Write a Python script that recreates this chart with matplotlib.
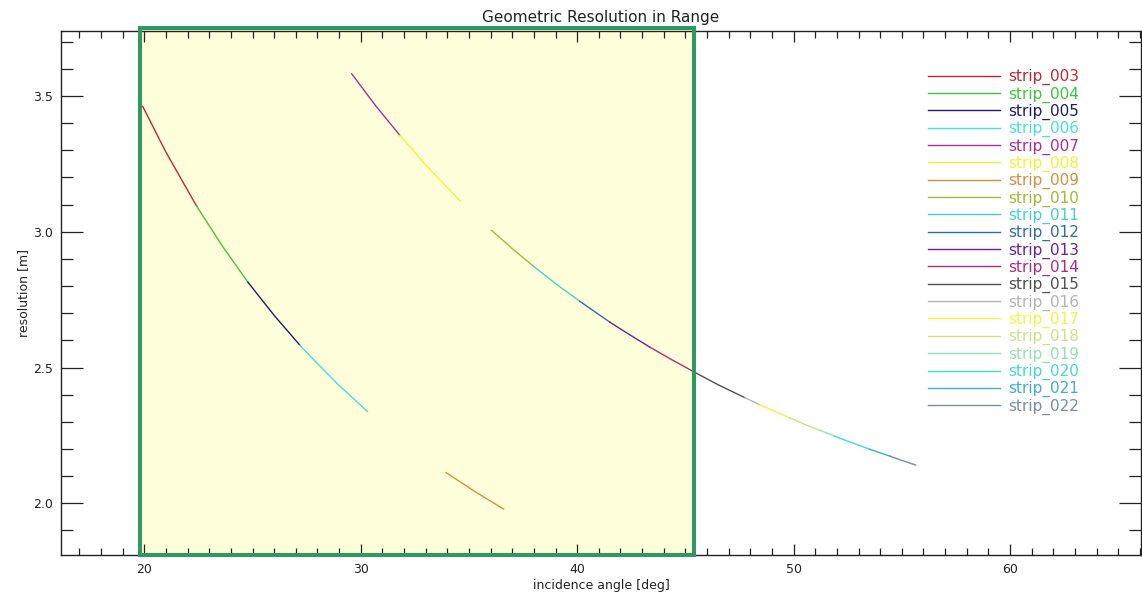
import numpy as np
import matplotlib
matplotlib.use("Agg")
import matplotlib.pyplot as plt
from matplotlib.patches import Rectangle
from matplotlib.ticker import MultipleLocator

# strips: name, colour, incidence angles [deg], resolution [m]
strip_names = ["strip_003", "strip_004", "strip_005", "strip_006", "strip_007",
               "strip_008", "strip_009", "strip_010", "strip_011", "strip_012",
               "strip_013", "strip_014", "strip_015", "strip_016", "strip_017",
               "strip_018", "strip_019", "strip_020", "strip_021", "strip_022"]

strip_colors = ["#c02830", "#3cc83c", "#1c1c70", "#48dede", "#a82ca8",
                "#f2f236", "#d49040", "#a8b832", "#44d2c6", "#2e6ea8",
                "#702090", "#b02a80", "#505050", "#b4b4b4", "#f4f444",
                "#cce284", "#92e2b2", "#44d8d8", "#40b0c2", "#7090aa"]

strip_angle = [
    [19.93, 21.0, 22.42],
    [22.42, 23.6, 24.79],
    [24.79, 26.0, 27.19],
    [27.19, 27.65, 29.0, 30.31],
    [29.58, 30.7, 31.81],
    [31.81, 33.2, 34.58],
    [33.95, 35.3, 36.6],
    [36.05, 37.0, 37.95],
    [37.95, 39.0, 40.12],
    [40.12, 41.51],
    [41.51, 42.4, 43.36],
    [43.36, 44.3, 45.35],
    [45.35, 46.5, 47.75],
    [47.75, 48.44],
    [48.44, 49.82],
    [49.82, 50.5, 51.21],
    [51.21, 51.90],
    [51.90, 52.7, 53.52],
    [53.52, 54.44],
    [54.44, 55.0, 55.64],
]

strip_res = [
    [3.461, 3.293, 3.094],
    [3.094, 2.948, 2.814],
    [2.814, 2.692, 2.582],
    [2.582, 2.543, 2.434, 2.338],
    [3.582, 3.463, 3.355],
    [3.355, 3.229, 3.115],
    [2.113, 2.042, 1.979],
    [3.005, 2.938, 2.875],
    [2.875, 2.809, 2.744],
    [2.744, 2.667],
    [2.667, 2.622, 2.575],
    [2.575, 2.532, 2.486],
    [2.486, 2.437, 2.389],
    [2.389, 2.363],
    [2.363, 2.315],
    [2.315, 2.291, 2.269],
    [2.269, 2.247],
    [2.247, 2.223, 2.199],
    [2.199, 2.174],
    [2.174, 2.158, 2.141],
]

# highlighted angle window
box_x = [19.80, 45.42]

fig = plt.figure(figsize=(11.42, 5.98), dpi=100)
ax = fig.add_axes([0.0534, 0.0719, 0.9457, 0.8768])

for name, col, xa, ya in zip(strip_names, strip_colors, strip_angle, strip_res):
    ax.plot(xa, ya, color=col, lw=1.0, label=name, zorder=2)

ax.set_xlim(16.15, 66.05)
ax.set_ylim(1.8096, 3.7405)

ax.xaxis.set_major_locator(MultipleLocator(10))
ax.xaxis.set_minor_locator(MultipleLocator(1))
ax.yaxis.set_major_locator(MultipleLocator(0.5))
ax.yaxis.set_minor_locator(MultipleLocator(0.1))
ax.yaxis.set_major_formatter(matplotlib.ticker.FormatStrFormatter("%.1f"))

ax.tick_params(which="both", direction="in", top=True, right=True,
               color="#222222", labelcolor="#222222", labelsize=9, width=0.9)
ax.tick_params(axis="x", which="major", length=8, pad=6)
ax.tick_params(axis="x", which="minor", length=5)
ax.tick_params(axis="y", which="major", length=16, pad=6)
ax.tick_params(axis="y", which="minor", length=8.6)
for sp in ax.spines.values():
    sp.set_linewidth(1.0)
    sp.set_color("#222222")

ax.set_title("Geometric Resolution in Range", fontsize=11, color="#222222", pad=6)
ax.set_xlabel("incidence angle [deg]", fontsize=9, color="#222222", labelpad=2)
ax.set_ylabel("resolution [m]", fontsize=9, color="#222222", labelpad=2)

trans = ax.get_xaxis_transform()
ax.add_patch(Rectangle((box_x[0], 0), box_x[1] - box_x[0], 1.0046, transform=trans,
                       facecolor="#fffedb", edgecolor="none", zorder=0.5, clip_on=False))
ax.add_patch(Rectangle((box_x[0], 0), box_x[1] - box_x[0], 1.0046, transform=trans,
                       facecolor="none", edgecolor="#2e9960", lw=2.9, zorder=3,
                       clip_on=False))

ax.legend(loc="upper left", bbox_to_anchor=(0.803, 0.927), frameon=False,
          labelcolor="linecolor", fontsize=11, handlelength=4.7, handletextpad=0.55,
          labelspacing=0.075, borderpad=0, borderaxespad=0)

fig.savefig("out.png", dpi=100)
